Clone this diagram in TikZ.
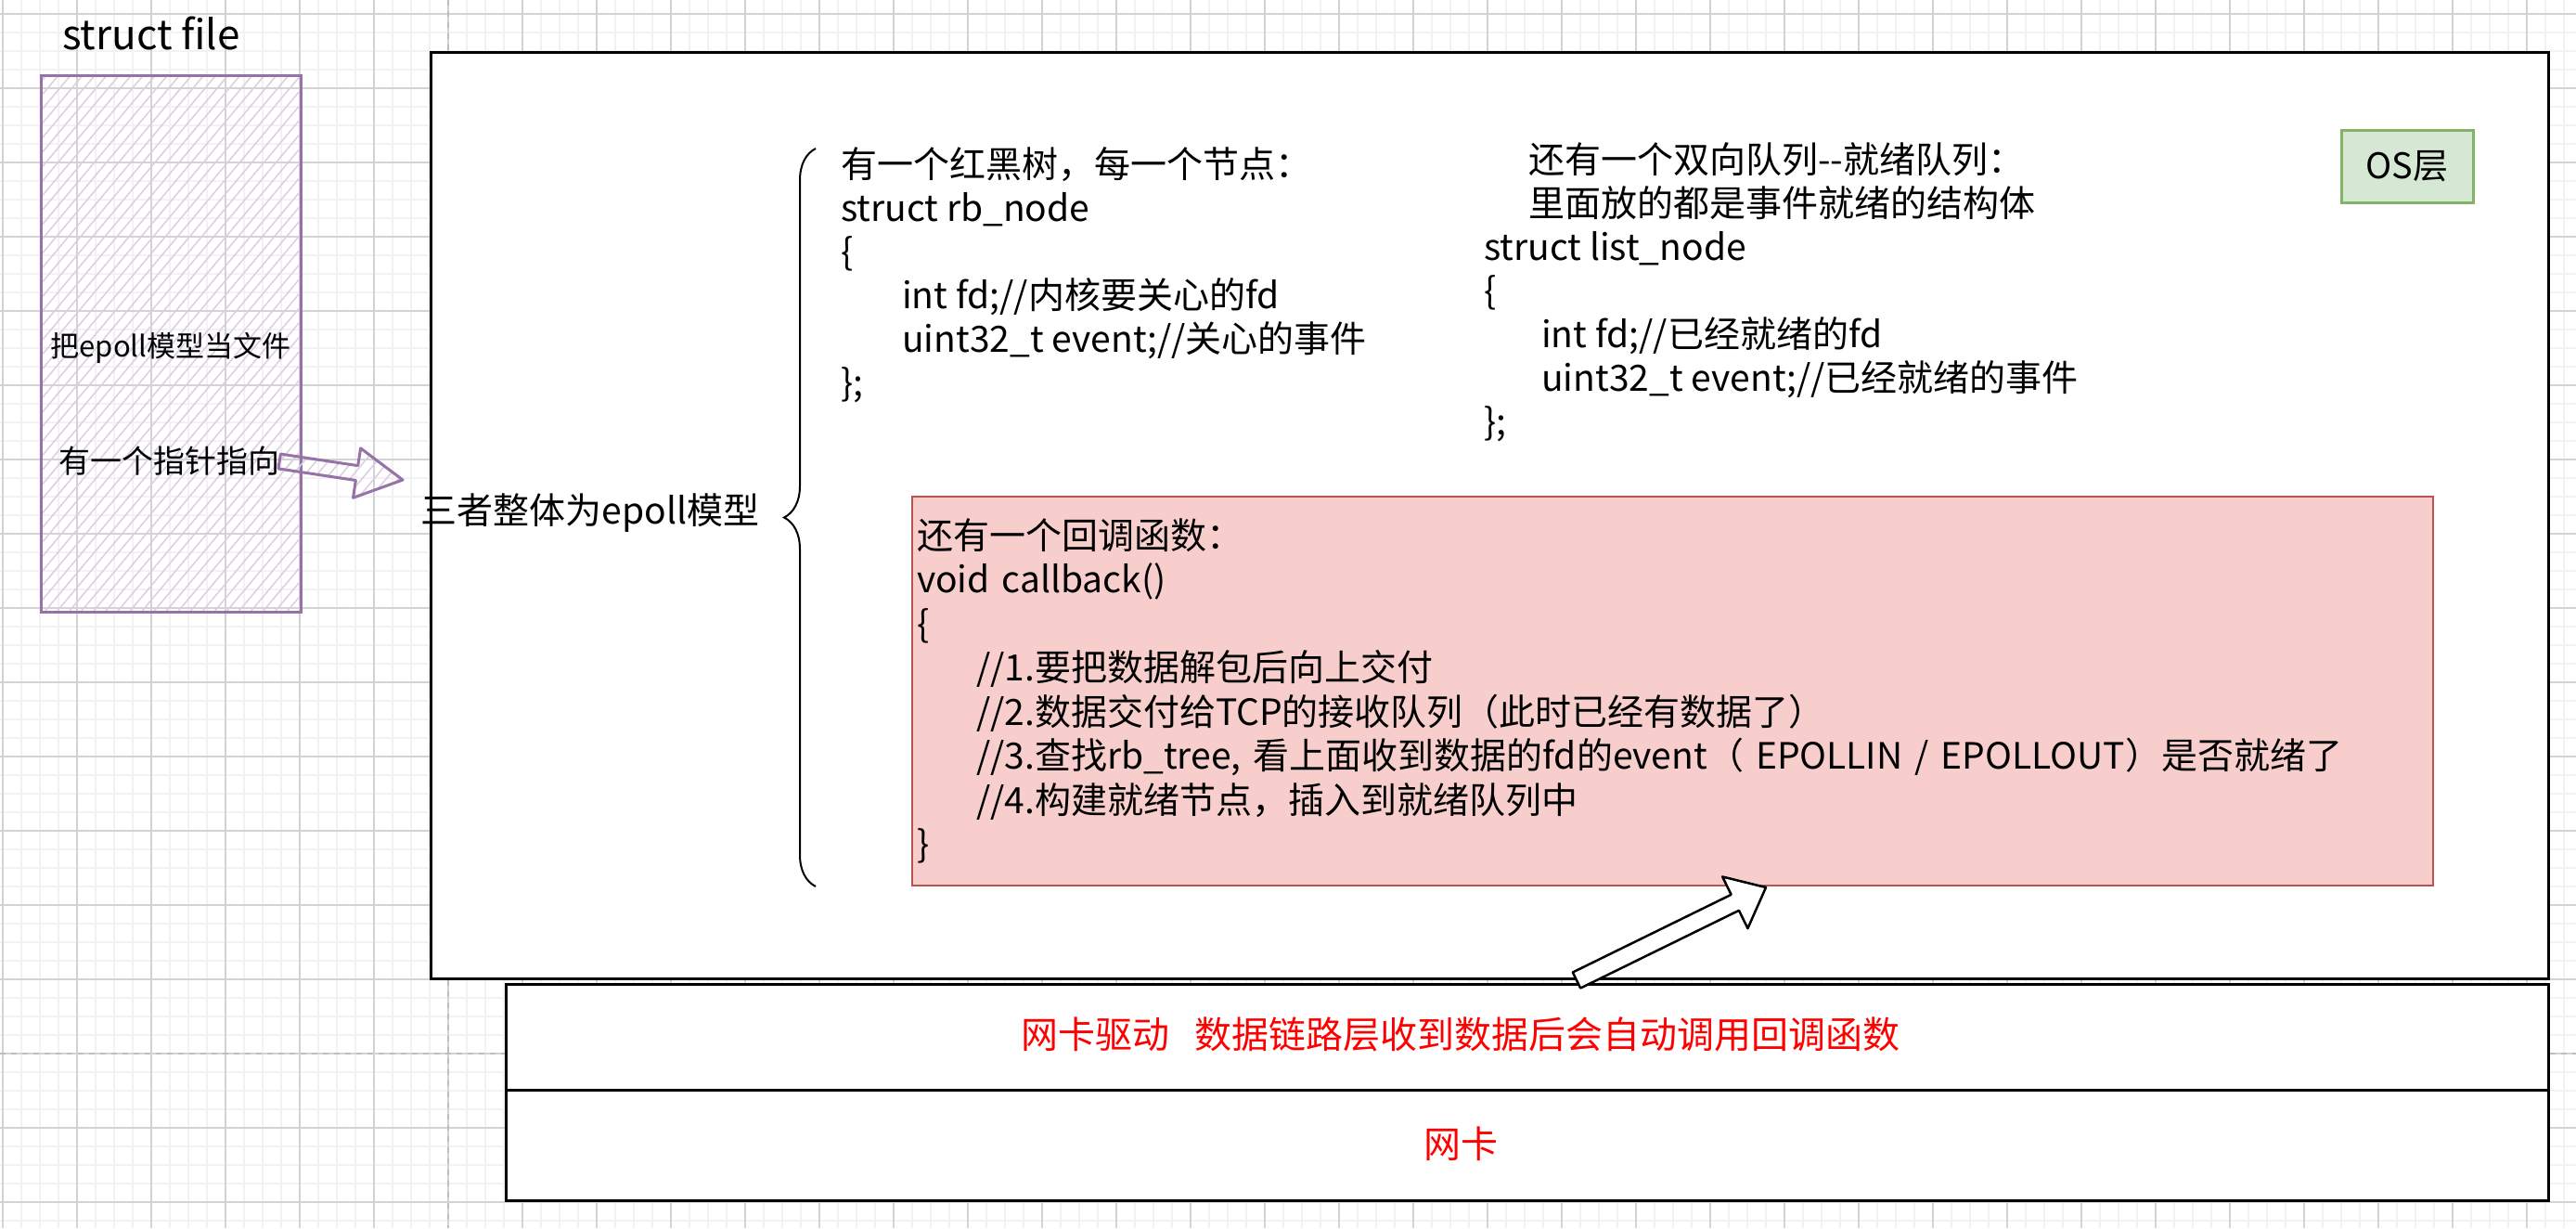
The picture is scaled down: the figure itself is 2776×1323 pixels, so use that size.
\documentclass[tikz,border=0pt]{standalone}
\usepackage{fontspec}
\setmainfont{Noto Sans CJK SC}
\usetikzlibrary{calc,decorations.pathreplacing,patterns.meta}
\definecolor{gridminor}{HTML}{F2F2F2}
\definecolor{gridmajor}{HTML}{D3D3D3}
\definecolor{pagebrk}{HTML}{BDBDBD}
\definecolor{purpleline}{HTML}{9673A6}
\definecolor{purplehatch}{HTML}{DCCDE3}
\definecolor{greenfill}{HTML}{D5E8D4}
\definecolor{greenline}{HTML}{82B366}
\definecolor{redfill}{HTML}{F8CECC}
\definecolor{redline}{HTML}{B85450}
\definecolor{redtext}{HTML}{FF0000}
% block arrow: #1 style, #2 tail, #3 tip, #4 half shaft, #5 half head, #6 head length
\newcommand\blockarrow[6]{%
  \coordinate (bhd) at ($(#3)!#6!(#2)$);
  \draw[#1] ($(#2)!#4!90:(#3)$) -- ($(bhd)!#4!90:(#3)$) -- ($(bhd)!#5!90:(#3)$) -- (#3)
    -- ($(bhd)!#5!-90:(#3)$) -- ($(bhd)!#4!-90:(#3)$) -- ($(#2)!#4!-90:(#3)$) -- cycle;}
\begin{document}
\begin{tikzpicture}[x=1pt,y=-1pt,
  bigtxt/.style={inner sep=0pt, font=\fontsize{39}{47}\selectfont, align=left},
  hatch/.style={pattern={Lines[angle=50,distance=10pt,line width=1.5pt]}, pattern color=purplehatch},
  box/.style={draw=black, fill=white, line width=3pt, inner sep=0pt},
  redlbl/.style={inner sep=0pt, text=redtext, font=\fontsize{40}{48}\selectfont}]
\useasboundingbox (0,0) rectangle (2776,1323);
\fill[white] (0,0) rectangle (2776,1323);
% grid
\foreach \x in {3,23,...,2776} \draw[gridminor, line width=2pt] (\x,0) -- (\x,1323);
\foreach \y in {15,35,...,1323} \draw[gridminor, line width=2pt] (0,\y) -- (2776,\y);
\foreach \x in {3,83,...,2776} \draw[gridmajor, line width=1.2pt] (\x,0) -- (\x,1323);
\foreach \y in {15,95,...,1323} \draw[gridmajor, line width=1.2pt] (0,\y) -- (2776,\y);
\draw[pagebrk, line width=1.5pt, dash pattern=on 6pt off 6pt] (0,1135) -- (2776,1135);
\draw[pagebrk, line width=1.5pt, dash pattern=on 6pt off 6pt] (483,0) -- (483,1323);

% struct file box
\node[draw=purpleline, line width=3pt, hatch, minimum width=280pt, minimum height=578pt, inner sep=0pt] (filebox) at (184,370) {};
\node[inner sep=0pt, font=\fontsize{44}{52}\selectfont] (sfile) at (163,36) {struct file};
\node[inner sep=0pt, font=\fontsize{31}{37}\selectfont] (epfile) at (184,375) {把epoll模型当文件};

% main box
\node[box, minimum width=2282pt, minimum height=998pt] (epollbox) at (1605,555) {};

% driver and nic boxes
\node[box, minimum width=2201pt, minimum height=114pt] (drvbox) at (1645.5,1117) {};
\node[box, minimum width=2201pt, minimum height=119pt] (nicbox) at (1645.5,1233.5) {};
\node[redlbl] (drvtxt) at (1574,1114) {网卡驱动~~~数据链路层收到数据后会自动调用回调函数};
\node[redlbl] (nictxt) at (1574,1232) {网卡};

% pointer text and arrow
\node[inner sep=0pt, font=\fontsize{34}{40}\selectfont] (ptr) at (182,497) {有一个指针指向};
\coordinate (ptip) at (434,517);
\blockarrow{draw=purpleline, line width=3pt, line join=round, hatch}{ptr.east}{ptip}{8pt}{27pt}{50pt}

% whole label
\node[bigtxt] (whole) at (636,553) {三者整体为epoll模型};

% brace
\coordinate (brbot) at (879,955);
\coordinate (brtop) at (879,160);
\draw[decorate, decoration={brace, amplitude=34pt, aspect=0.5}, line width=2pt] (brbot) -- (brtop);

% rb tree text
\node[bigtxt, anchor=north west] (tree) at (906,158) {有一个红黑树，每一个节点：\\
struct rb\_node\\
\{\\
\hspace*{66pt}int fd;//内核要关心的fd\\
\hspace*{66pt}uint32\_t event;//关心的事件\\
\};};

% ready queue text
\node[bigtxt, anchor=north west] (queue) at (1599,153) {\hspace*{48pt}还有一个双向队列-{}-就绪队列：\\
\hspace*{48pt}里面放的都是事件就绪的结构体\\
struct list\_node\\
\{\\
\hspace*{62pt}int fd;//已经就绪的fd\\
\hspace*{62pt}uint32\_t event;//已经就绪的事件\\
\};};

% OS layer
\node[draw=greenline, fill=greenfill, line width=3pt, minimum width=142pt, minimum height=78pt, inner sep=0pt, font=\fontsize{38}{46}\selectfont] (osbox) at (2594,179) {OS层};

% callback box
\node[draw=redline, fill=redfill, line width=2.5pt, minimum width=1639pt, minimum height=419pt,
  text width=1629pt, inner xsep=5pt, inner ysep=0pt, align=left, font=\fontsize{39}{47.5}\selectfont] (cbbox) at (1802.5,744.5) {还有一个回调函数：\\
void callback()\\
\{\\
\hspace*{64pt}//1.要把数据解包后向上交付\\
\hspace*{64pt}//2.数据交付给TCP的接收队列（此时已经有数据了）\\
\hspace*{64pt}//3.查找rb\_tree, 看上面收到数据的fd的event（ EPOLLIN / EPOLLOUT）是否就绪了\\
\hspace*{64pt}//4.构建就绪节点，插入到就绪队列中\\
\}};

% callback arrow
\coordinate (btail) at (1699,1056);
\coordinate (btip) at (1903,956);
\blockarrow{draw=black, fill=white, line width=2.5pt, line join=round}{btail}{btip}{9.5pt}{31pt}{37pt}
\end{tikzpicture}
\end{document}
